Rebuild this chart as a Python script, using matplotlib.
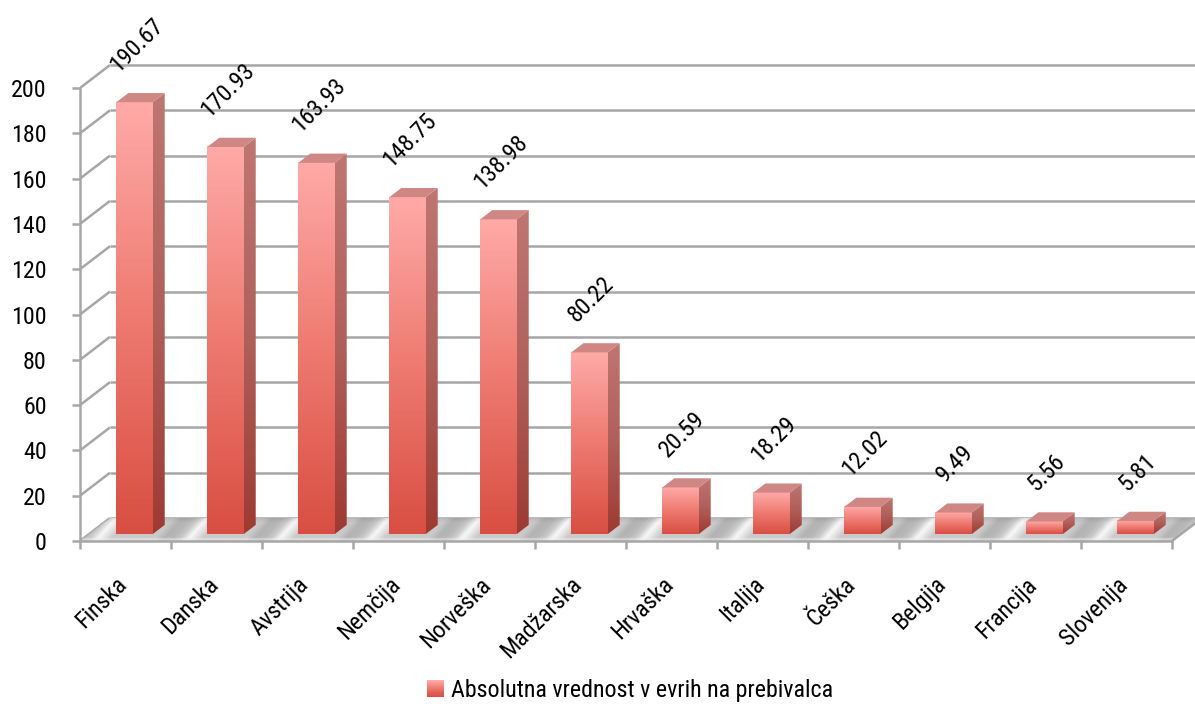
import numpy as np
import matplotlib
matplotlib.use("Agg")
import matplotlib.pyplot as plt
import matplotlib.transforms as mtransforms
from matplotlib.colors import LinearSegmentedColormap
from matplotlib.patches import Polygon, Rectangle
from matplotlib.legend_handler import HandlerBase

# ---- data -------------------------------------------------------------
countries = ["Finska", "Danska", "Avstrija", "Nemčija", "Norveška", "Madžarska",
             "Hrvaška", "Italija", "Češka", "Belgija", "Francija", "Slovenija"]
values = [190.67, 170.93, 163.93, 148.75, 138.98, 80.22,
          20.59, 18.29, 12.02, 9.49, 5.56, 5.81]
y_ticks = [0, 20, 40, 60, 80, 100, 120, 140, 160, 180, 200]
series_name = "Absolutna vrednost v evrih na prebivalca"

# ---- style ------------------------------------------------------------
plt.rcParams["font.family"] = ["Roboto Condensed", "DejaVu Sans"]
FS = 17.3
GRID_C = "#a6a6a6"
LW = 1.8

front_cmap = LinearSegmentedColormap.from_list("front", ["#d94e42", "#ee7a70", "#ffaaa8"])
side_cmap = LinearSegmentedColormap.from_list("side", ["#9e3a32", "#b0605a", "#bf7672"])
TOP_C = "#cf8784"

W, H = 1195, 704
CAT_PX = 91.0        # pixels per category
VAL_PX = 2.265       # pixels per value unit
X0_PX, Y0_PX = 80, 163

fig = plt.figure(figsize=(W / 100, H / 100), dpi=100)
ax = fig.add_axes([X0_PX / W, Y0_PX / H, (W - X0_PX) / W, (H - Y0_PX) / H])
ax.set_xlim(0, (W - X0_PX) / CAT_PX)
ax.set_ylim(0, (H - Y0_PX) / VAL_PX)
ax.patch.set_visible(False)

n = len(countries)
DX, DY = 0.33, 10.15          # floor depth (category units, value units)
BAR_W = 0.4
F0, F1 = 0.3, 0.7             # bar depth span as a fraction of floor depth
grad = np.linspace(0, 1, 256).reshape(-1, 1)

# ---- back wall and left wall gridlines -------------------------------
ymax = max(y_ticks)
for v in y_ticks:
    ax.plot([DX, n + DX], [v + DY, v + DY], color=GRID_C, lw=LW, zorder=1,
            solid_capstyle="butt")
    ax.plot([0, DX], [v, v + DY], color=GRID_C, lw=LW, zorder=1,
            solid_capstyle="butt")

# ---- floor (shaded slab) ---------------------------------------------------
floor_pts = [(0, 0), (n, 0), (n + DX, DY), (DX, DY)]
floor_poly = Polygon(floor_pts, closed=True, facecolor="none", edgecolor="none",
                     transform=ax.transData)
ax.add_patch(floor_poly)
gx = np.linspace(0, n + DX, 1400)
gy = np.linspace(0, DY, 60)
XX, YY = np.meshgrid(gx, gy)
depth = YY / DY
phase = np.mod(XX - 0.22 * depth, 1.0)
shade = np.interp(phase, [0.0, 0.08, 0.17, 0.24, 0.32, 0.8, 0.9, 1.0],
                  [0.72, 0.79, 0.97, 0.89, 0.79, 0.79, 0.70, 0.72])
shade = shade - 0.06 * np.clip((depth - 0.8) / 0.2, 0, 1)
shade = np.where(depth < 0.12, 0.5 * shade + 0.5 * 0.93, shade)
fim = ax.imshow(shade, extent=[0, n + DX, 0, DY], origin="lower", cmap="gray",
                vmin=0, vmax=1, aspect="auto", interpolation="bilinear", zorder=1.5)
fim.set_clip_path(floor_poly)
ax.plot([n, n + DX], [0, DY], color=GRID_C, lw=LW, zorder=2)

# ---- bars ---------------------------------------------------------------
d = F1 - F0
for i, v in enumerate(values):
    x0 = i + 0.5 - BAR_W / 2 + F0 * DX
    x1 = x0 + BAR_W
    yb = F0 * DY
    yt = v + F0 * DY
    # front face
    ax.imshow(grad, extent=[x0, x1, yb, yt], origin="lower", cmap=front_cmap,
              aspect="auto", interpolation="bilinear", zorder=3)
    # right side face
    side_pts = [(x1, yb), (x1 + d * DX, yb + d * DY), (x1 + d * DX, yt + d * DY), (x1, yt)]
    side_poly = Polygon(side_pts, closed=True, facecolor="none", edgecolor="none",
                        transform=ax.transData)
    ax.add_patch(side_poly)
    sim = ax.imshow(grad, extent=[x1, x1 + d * DX, yb, yt + d * DY], origin="lower",
                    cmap=side_cmap, aspect="auto", interpolation="bilinear", zorder=3)
    sim.set_clip_path(side_poly)
    # top face
    top_pts = [(x0, yt), (x1, yt), (x1 + d * DX, yt + d * DY), (x0 + d * DX, yt + d * DY)]
    ax.add_patch(Polygon(top_pts, closed=True, facecolor=TOP_C, edgecolor="none", zorder=3))
    # value label
    ax.annotate(f"{v:.2f}", xy=(i + 0.5 + 0.5 * DX, v + F1 * DY), xytext=(-3, 12),
                textcoords="offset points", rotation=45, ha="center", va="bottom",
                fontsize=FS, color="black", zorder=5)

# ---- axes -----------------------------------------------------------------
for s in ("top", "right"):
    ax.spines[s].set_visible(False)
ax.spines["left"].set_bounds(0, ymax)
ax.spines["bottom"].set_bounds(0, n)
for s in ("left", "bottom"):
    ax.spines[s].set_color(GRID_C)
    ax.spines[s].set_linewidth(LW)
    ax.spines[s].set_zorder(2)

ax.set_yticks(y_ticks)
ax.set_yticklabels([str(t) for t in y_ticks])
ax.tick_params(axis="y", length=6, width=LW, color=GRID_C, pad=18, labelsize=FS)

ax.set_xticks(np.arange(n + 1))
ax.set_xticklabels([""] * (n + 1))
ax.tick_params(axis="x", which="major", length=6, width=LW, color=GRID_C)
ax.set_xticks(np.arange(n) + 0.5, minor=True)
ax.set_xticklabels(countries, minor=True, rotation=45, ha="right", fontsize=FS)
ax.tick_params(axis="x", which="minor", length=0, pad=23)
shift = mtransforms.ScaledTranslation(4.5 / 72, 0, fig.dpi_scale_trans)
for lab in ax.get_xticklabels(minor=True):
    lab.set_transform(lab.get_transform() + shift)


# ---- legend -------------------------------------------------------------
class GradientSquare(HandlerBase):
    def create_artists(self, legend, orig_handle, xdescent, ydescent, width, height,
                       fontsize, trans):
        k = 16
        arts = []
        for j in range(k):
            arts.append(Rectangle((-xdescent, -ydescent + j * height / k), width,
                                  height / k + 0.01, facecolor=front_cmap(j / (k - 1)),
                                  edgecolor="none", transform=trans))
        return arts


proxy = Rectangle((0, 0), 1, 1)
fig.legend(handles=[proxy], labels=[series_name], handler_map={proxy: GradientSquare()},
           loc="center", bbox_to_anchor=(630 / W, 1 - 690 / H), frameon=False,
           fontsize=FS, handlelength=0.72, handleheight=0.72, handletextpad=0.3)

fig.savefig("out.png", dpi=100)
